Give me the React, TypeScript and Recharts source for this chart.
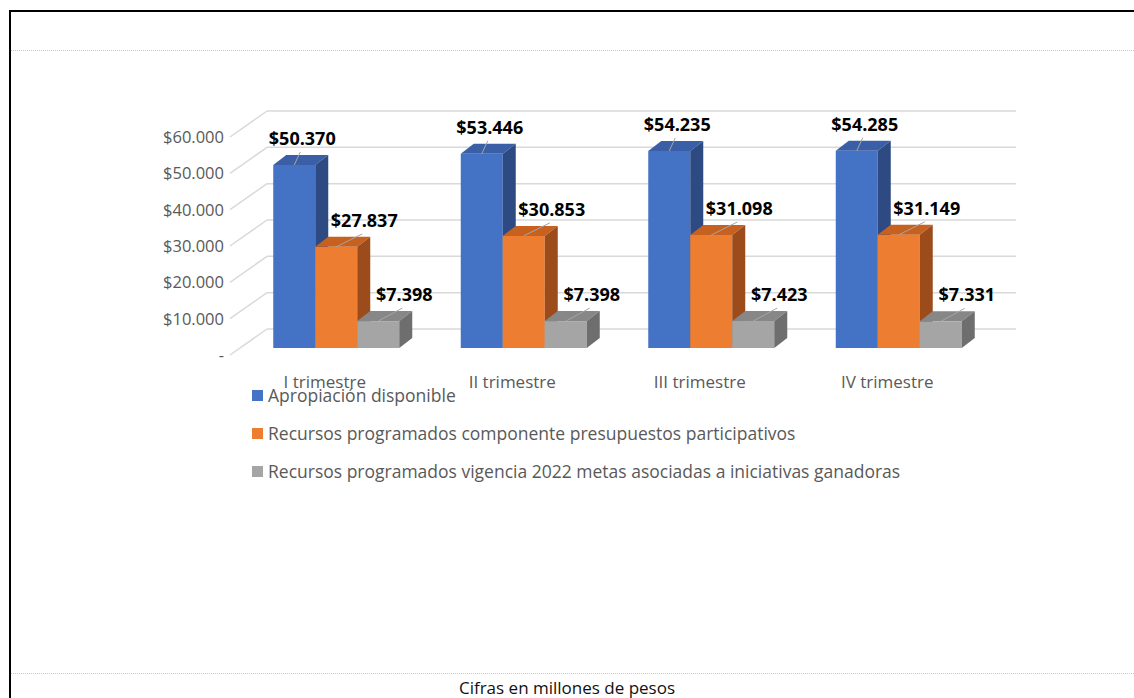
import { BarChart, Bar, XAxis, YAxis, CartesianGrid, LabelList } from 'recharts'

const TRIMESTRES = ['I trimestre', 'II trimestre', 'III trimestre', 'IV trimestre']
const APROPIACION = [50370, 53446, 54235, 54285]
const PRESUPUESTOS = [27837, 30853, 31098, 31149]
const VIGENCIA = [7398, 7398, 7423, 7331]
const Y_TICKS = [0, 10000, 20000, 30000, 40000, 50000, 60000]

const SERIES = [
  { key: 'apropiacion', name: 'Apropiación disponible', front: '#4472C4', top: '#3A5FA6', side: '#2D4A82', ldx: 8 },
  { key: 'presupuestos', name: 'Recursos programados componente presupuestos participativos', front: '#ED7D31', top: '#C6611F', side: '#9C4B1B', ldx: 28 },
  { key: 'vigencia', name: 'Recursos programados vigencia 2022 metas asociadas a iniciativas ganadoras', front: '#A5A5A5', top: '#878787', side: '#6E6E6E', ldx: 26 },
]

const data = TRIMESTRES.map((t, i) => ({
  trimestre: t,
  apropiacion: APROPIACION[i],
  presupuestos: PRESUPUESTOS[i],
  vigencia: VIGENCIA[i],
}))

const FONT = '"Open Sans", sans-serif'
const GRAY_TEXT = '#595959'
const DX = 13 // profundidad de la barra
const DY = 10

const fmt = (v: number) => '$' + String(v).replace(/\B(?=(\d{3})+(?!\d))/g, '.')

function Bar3D(props: any) {
  const { x, y, width: w, height: h, front, top, side } = props
  if (!h || h <= 0) return null
  return (
    <g>
      <rect x={x} y={y} width={w} height={h} fill={front} />
      <polygon points={`${x},${y} ${x + DX},${y - DY} ${x + w + DX},${y - DY} ${x + w},${y}`} fill={top} />
      <polygon points={`${x + w},${y} ${x + w + DX},${y - DY} ${x + w + DX},${y + h - DY} ${x + w},${y + h}`} fill={side} />
    </g>
  )
}

function makeLabel(ldx: number) {
  return (props: any) => {
    const { x, y, width, value } = props
    const bx = x + width / 2
    const cx = bx + ldx
    const cy = y - 27
    return (
      <g>
        <line x1={bx} y1={y} x2={cx - 2} y2={cy + 14} stroke="#A6A6A6" strokeWidth={1} />
        <text x={cx} y={cy} textAnchor="middle" dominantBaseline="central" fontFamily={FONT} fontWeight={700} fontSize={18} fill="#000">
          {fmt(value)}
        </text>
      </g>
    )
  }
}

function GridLine(props: any) {
  const { x1, x2, y1 } = props
  return (
    <g>
      <line x1={x1 - 12} y1={y1 + 7} x2={x1 + 25} y2={y1 - 19} stroke="#D9D9D9" strokeWidth={1.5} />
      <line x1={x1 + 25} y1={y1 - 19} x2={x2 + 24} y2={y1 - 19} stroke="#D9D9D9" strokeWidth={1.5} />
    </g>
  )
}

function YTick(props: any) {
  const { x, y, payload } = props
  return (
    <text x={x - 10} y={y + 6.5} textAnchor="end" dominantBaseline="central" fontFamily={FONT} fontSize={16.5} fill={GRAY_TEXT}>
      {payload.value === 0 ? '-' : fmt(payload.value)}
    </text>
  )
}

function XTick(props: any) {
  const { x, y, payload } = props
  return (
    <text x={x - 11} y={y + 25} textAnchor="middle" dominantBaseline="central" fontFamily={FONT} fontSize={17} fill={GRAY_TEXT}>
      {payload.value}
    </text>
  )
}

export default function App() {
  return (
    <div style={{ position: 'absolute', left: 0, top: 0, width: 1134, height: 698, background: '#fff', overflow: 'hidden', fontFamily: FONT }}>
      <div style={{ position: 'absolute', left: 9, top: 10, width: 1200, height: 800, borderTop: '2px solid #000', borderLeft: '2px solid #000' }} />
      <div style={{ position: 'absolute', left: 11, top: 50, width: 1123, borderTop: '1px dotted #C8C8C8' }} />
      <div style={{ position: 'absolute', left: 11, top: 673, width: 1123, borderTop: '1px dotted #C8C8C8' }} />

      <div style={{ position: 'absolute', left: 0, top: 0 }}>
        <BarChart width={1134} height={698} data={data} margin={{ top: 130, right: 142, bottom: 310, left: 0 }} barCategoryGap="16.67%" barGap={0}>
          <CartesianGrid vertical={false} horizontal={(p: any) => <GridLine key={p.key ?? p.y1} {...p} />} />
          <XAxis dataKey="trimestre" axisLine={false} tickLine={false} height={40} tick={<XTick />} interval={0} />
          <YAxis domain={[0, 60000]} ticks={Y_TICKS} axisLine={false} tickLine={false} width={242} tick={<YTick />} interval={0} />
          {SERIES.map((s) => (
            <Bar
              key={s.key}
              dataKey={s.key}
              name={s.name}
              fill={s.front}
              isAnimationActive={false}
              shape={(p: any) => <Bar3D {...p} front={s.front} top={s.top} side={s.side} />}
            >
              <LabelList dataKey={s.key} content={makeLabel(s.ldx)} />
            </Bar>
          ))}
        </BarChart>
      </div>

      <div style={{ position: 'absolute', left: 252, top: 383 }}>
        {SERIES.map((s, i) => (
          <div key={s.key} style={{ position: 'absolute', left: 0, top: i * 38, display: 'flex', alignItems: 'center', whiteSpace: 'nowrap', height: 24 }}>
            <span style={{ display: 'inline-block', width: 11, height: 11, background: s.front, marginRight: 5 }} />
            <span style={{ fontSize: 17.5, color: GRAY_TEXT }}>{s.name}</span>
          </div>
        ))}
      </div>

      <div style={{ position: 'absolute', left: 0, width: 1134, top: 676, textAlign: 'center', fontSize: 17, color: '#111' }}>
        Cifras en millones de pesos
      </div>
    </div>
  )
}
